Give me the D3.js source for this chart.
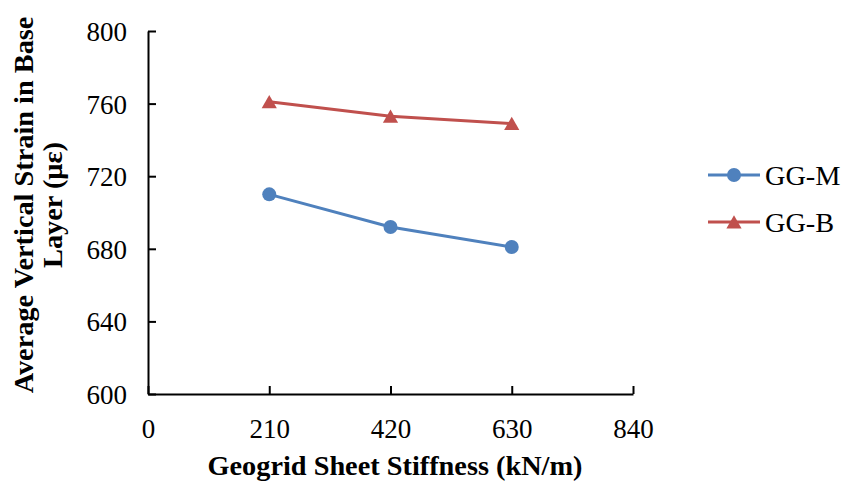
<!DOCTYPE html>
<html>
<head>
<meta charset="utf-8">
<script src="https://cdn.jsdelivr.net/npm/d3@7"></script>
<style>
  body { margin: 0; background: #fff; }
  text { font-family: "Liberation Serif", "Times New Roman", serif; }
</style>
</head>
<body>
<div id="chart-container"></div>
<script>
// Chart data
const stiffness = [210, 420, 630];
const ggM = [710, 692, 681];
const ggB = [761, 753, 749];
const xTicks = [0, 210, 420, 630, 840];
const yTicks = [600, 640, 680, 720, 760, 800];
const seriesNames = ['GG-M', 'GG-B'];

const svgWidth = 842;
const svgHeight = 488;
const margin = { left: 148, right: 209, top: 31, bottom: 94 };
const tickFont = '27px';
const titleFont = '28.3px';

const svg = d3.select('#chart-container')
  .append('svg')
  .attr('width', svgWidth)
  .attr('height', svgHeight);

const xScale = d3.scaleLinear().domain([0, 840]).range([margin.left, svgWidth - margin.right]);
const yScale = d3.scaleLinear().domain([600, 800]).range([svgHeight - margin.bottom, margin.top]);

// Axes (Excel-style inside ticks)
const xAxis = svg.append('g')
  .attr('transform', 'translate(0,' + yScale(600) + ')')
  .call(d3.axisBottom(xScale).tickValues(xTicks).tickSizeInner(-8).tickSizeOuter(0).tickPadding(25));
const yAxis = svg.append('g')
  .attr('transform', 'translate(' + xScale(0) + ',0)')
  .call(d3.axisLeft(yScale).tickValues(yTicks).tickSizeInner(-8).tickSizeOuter(0).tickPadding(21));

[xAxis, yAxis].forEach(g => {
  g.select('.domain').attr('stroke', '#000').attr('stroke-width', 2);
  g.selectAll('.tick line').attr('stroke', '#000').attr('stroke-width', 2);
  g.selectAll('.tick text')
    .style('font-family', '"Liberation Serif", serif')
    .style('font-size', tickFont)
    .attr('fill', '#000');
});
yAxis.selectAll('.tick text').attr('dy', '0.35em');

// Axis titles
svg.append('text')
  .attr('x', 395)
  .attr('y', 475)
  .attr('text-anchor', 'middle')
  .style('font-size', titleFont)
  .style('font-weight', 'bold')
  .text('Geogrid Sheet Stiffness (kN/m)');

const yTitle = svg.append('text')
  .attr('transform', 'translate(33,205) rotate(-90)')
  .attr('text-anchor', 'middle')
  .style('font-size', titleFont)
  .style('font-weight', 'bold');
yTitle.append('tspan').attr('x', 0).attr('dy', 0).text('Average Vertical Strain in Base');
yTitle.append('tspan').attr('x', 0).attr('dy', 29).text('Layer (με)');

const colors = ['#4F81BD', '#C0504D'];
const seriesData = [ggM, ggB];

const line = d3.line()
  .x(d => xScale(d.x))
  .y(d => yScale(d.y));

const triangle = d3.symbol().type(d3.symbolTriangle).size(100);

seriesData.forEach((values, i) => {
  const pts = stiffness.map((x, j) => ({ x, y: values[j] }));
  svg.append('path')
    .datum(pts)
    .attr('d', line)
    .attr('fill', 'none')
    .attr('stroke', colors[i])
    .attr('stroke-width', 3);

  if (i === 0) {
    svg.selectAll('.dot-m')
      .data(pts)
      .enter()
      .append('circle')
      .attr('class', 'dot-m')
      .attr('cx', d => xScale(d.x))
      .attr('cy', d => yScale(d.y))
      .attr('r', 7)
      .attr('fill', colors[i]);
  } else {
    svg.selectAll('.dot-b')
      .data(pts)
      .enter()
      .append('path')
      .attr('class', 'dot-b')
      .attr('d', triangle)
      .attr('transform', d => 'translate(' + xScale(d.x) + ',' + (yScale(d.y) + 2) + ')')
      .attr('fill', colors[i]);
  }
});

// Legend
const legend = svg.append('g').attr('transform', 'translate(708,175)');
seriesNames.forEach((name, i) => {
  const g = legend.append('g').attr('transform', 'translate(0,' + (i * 47) + ')');
  g.append('line')
    .attr('x1', 0).attr('x2', 52)
    .attr('stroke', colors[i]).attr('stroke-width', 3);
  if (i === 0) {
    g.append('circle').attr('cx', 26).attr('r', 7).attr('fill', colors[i]);
  } else {
    g.append('path').attr('d', triangle).attr('transform', 'translate(26,2)').attr('fill', colors[i]);
  }
  g.append('text')
    .attr('x', 57)
    .attr('dy', '0.35em')
    .style('font-size', titleFont)
    .text(name);
});
</script>
</body>
</html>
